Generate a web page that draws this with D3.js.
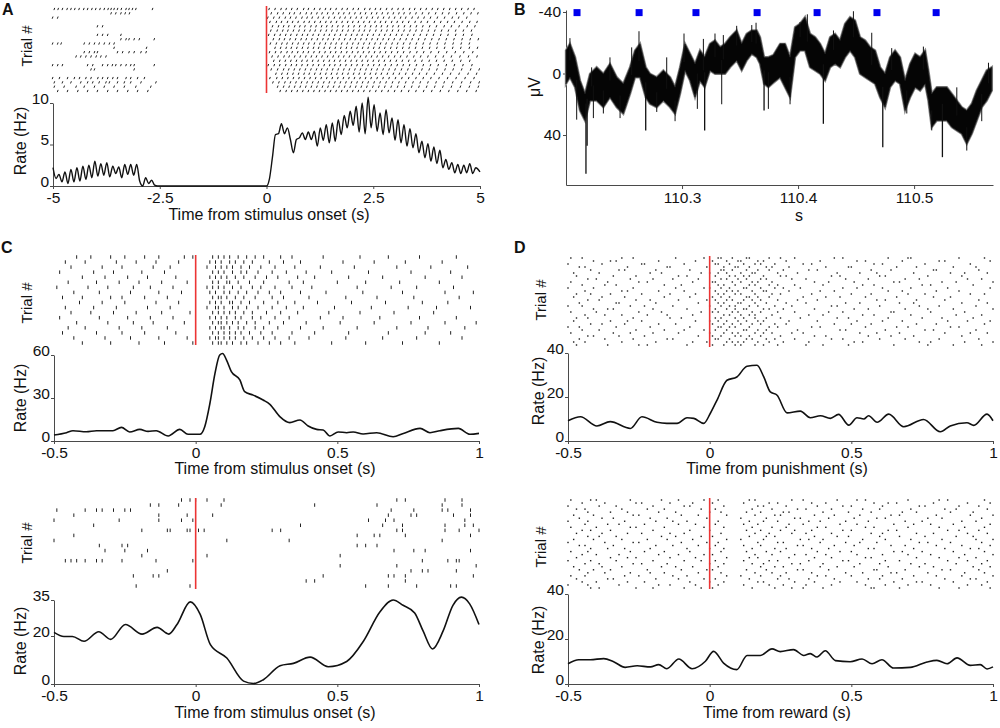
<!DOCTYPE html>
<html><head><meta charset="utf-8">
<script src="https://cdn.jsdelivr.net/npm/d3@7"></script>
<style>
html,body{margin:0;padding:0;background:#fff}
svg{display:block}
</style></head><body>
<svg id="fig" width="1000" height="728"></svg>
<script>
// ---------------- DATA ----------------
// Panel A: firing rate (Hz) vs time from stimulus onset (s)
const rateA_T = [-5.00,-4.93,-4.86,-4.79,-4.72,-4.65,-4.58,-4.51,-4.44,-4.37,-4.30,-4.23,-4.16,-4.09,-4.02,-3.95,-3.88,-3.81,-3.74,-3.67,-3.60,-3.53,-3.46,-3.39,-3.32,-3.25,-3.18,-3.11,-3.04,-2.97,-2.90,-2.83,-2.76,-2.69,-2.62,-2.55,
 0.00,0.07,0.14,0.21,0.28,0.35,0.42,0.49,0.56,0.63,0.70,0.77,0.84,0.91,0.98,1.05,1.12,1.19,1.26,1.33,1.40,1.47,1.54,1.61,1.68,1.75,1.82,1.89,1.96,2.03,2.10,2.17,2.24,2.31,2.38,2.45,2.52,2.59,2.66,2.73,2.80,2.87,2.94,3.01,3.08,3.15,3.22,3.29,3.36,3.43,3.50,3.57,3.64,3.71,3.78,3.85,3.92,3.99,4.06,4.13,4.20,4.27,4.34,4.41,4.48,4.55,4.62,4.69,4.76,4.83,4.90,5.00];
const rateA_V = [2.2,0.9,1.4,0.5,1.7,0.3,2.0,0.5,2.2,0.6,2.4,0.8,2.5,1.0,3.0,1.2,2.7,1.3,2.8,1.1,2.4,1.5,2.3,1.0,2.6,1.4,2.6,1.3,2.6,0.6,0.0,1.0,0.3,0.7,0.1,0.0,
 0.0,0.9,3.5,6.2,6.3,7.5,6.3,7.0,5.6,4.0,5.6,5.8,6.4,5.6,6.5,5.6,6.6,4.8,7.0,5.5,7.4,5.2,7.6,5.4,8.0,6.2,8.5,7.0,9.0,7.3,9.6,6.5,10.0,6.3,10.7,7.0,9.8,6.6,8.8,6.2,9.2,6.4,8.2,5.5,8.0,5.2,7.4,4.8,6.9,4.6,6.3,4.0,5.4,3.4,5.1,3.0,4.7,2.7,4.3,2.2,3.2,2.0,2.8,1.6,2.6,1.5,2.5,1.6,2.7,1.5,2.2,1.7];
// Panel A raster: spike times per trial, in 1/100 s
const rasterA = [
"-496 -487 -477 -466 -457 -448 -438 -427 -418 -408 -399 -389 -379 -370 -363 -356 -348 -339 -328 -321 -313 -305 -266 7 21 35 47 60 73 88 99 113 126 139 151 164 178 190 204 216 231 243 256 268 282 295 309 321 336 348 362 375 389 402 416 430 444 458 473 487",
"-363 -352 -340 -330 -320 12 27 40 55 66 80 94 106 119 131 144 157 170 182 195 208 221 233 247 259 272 285 298 311 323 337 351 366 381 397 413 428 446 463 480 496",
"-500 -488 4 18 31 45 57 70 84 96 108 122 134 147 160 173 185 198 211 223 236 249 262 275 288 301 315 327 342 356 370 385 401 418 436 451 470",
"9 24 36 50 62 75 89 101 114 127 140 152 165 178 191 203 216 229 242 255 268 280 294 307 320 334 349 363 378 394 409 425 441 459 477 494",
"-395 -383 15 29 41 53 67 79 91 105 117 130 142 155 168 180 193 206 219 232 245 258 270 284 297 310 324 338 352 367 383 399 417 434 452 471 489",
"11 26 39 51 64 77 90 103 115 128 141 154 166 179 192 205 218 230 243 257 270 283 296 310 323 337 351 365 380 395 411 427 444 462 481",
"-395 -383 -371 -340 6 20 33 46 58 72 85 97 110 123 136 148 161 174 187 200 213 225 238 251 265 278 291 305 318 332 346 361 376 392 409 426 444 462 482",
"-340 -328 -321 -309 -297 -262 17 31 43 56 69 82 94 107 120 133 145 158 171 184 197 209 222 235 248 261 274 287 300 314 328 342 357 372 388 405 422 440 459 478 497",
"-500 -488 -480 -426 -414 -402 -391 -379 -367 -356 10 24 37 49 62 75 88 100 113 126 139 152 164 177 190 203 216 229 242 255 268 281 295 308 322 337 352 368 384 401 419 438 457 476",
"-356 -280 21 34 47 59 72 85 98 111 123 136 149 162 175 188 200 213 226 239 252 265 278 292 306 320 335 350 366 383 400 418 437 456 476 495",
"-426 -414 -402 -395 -348 -336 -321 -309 -293 -281 8 22 35 49 61 74 87 99 112 125 138 151 163 176 189 202 215 228 241 254 267 280 294 308 322 337 353 369 386 404 423 443 463 484",
"-445 -434 -422 -410 -398 -387 -375 14 28 42 54 67 80 93 106 118 131 144 157 170 182 195 208 221 234 247 260 273 287 301 315 330 346 362 379 397 415 434 454 474 494",
"18 32 45 58 71 84 96 109 122 135 148 160 173 186 199 212 225 238 251 264 277 291 305 319 334 349 365 382 399 417 436 456 477",
"-500 -488 -477 -418 -406 -383 -371 -360 -352 -340 -328 -317 -309 -262 5 19 32 46 59 71 84 97 110 123 136 149 161 174 187 200 213 226 239 252 265 279 293 307 321 336 352 368 385 403 422 441 461 482",
"-410 -402 -309 12 27 41 53 66 79 92 105 118 130 143 156 169 182 195 208 221 234 247 260 274 288 302 317 332 348 365 382 400 419 438 458 479 499",
"23 37 50 63 76 89 101 114 127 140 153 166 179 192 205 218 231 244 257 270 284 298 312 327 343 359 376 394 413 432 452 473 493",
"-500 -484 -465 -449 -437 -422 -410 -394 -383 -371 -359 -348 -328 -317 -301 -285 9 25 38 51 64 77 90 103 116 129 142 155 168 181 194 207 220 233 246 260 274 288 303 318 334 351 368 386 405 425 445 466 487",
"-496 -477 -457 -434 -418 -406 -391 -375 -367 -348 -332 -317 -293 -258 16 30 44 57 70 83 96 109 122 135 148 161 174 187 200 213 226 239 253 267 281 296 311 327 344 361 379 398 417 437 458 479 499",
"-496 -473 -445 -426 -402 -379 -356 -332 -305 -270 27 41 54 67 80 93 106 119 132 145 158 171 184 197 210 223 236 250 264 278 293 308 324 341 358 376 395 414 434 455 476 497",
"-488 -465 -441 -418 -395 -371 -348 -324 -301 -277 33 47 60 73 86 99 112 125 138 151 164 177 190 203 216 229 243 257 271 286 301 317 334 351 369 388 408 428 449 470 492"];

// Panel B: LFP (µV, positive down) vs time (s): band top / bottom, spikes, stimulus marks
const lfpT = [110.2000,110.2034,110.2078,110.2121,110.2164,110.2207,110.2264,110.2322,110.2379,110.2437,110.2494,110.2552,110.2595,110.2638,110.2687,110.2724,110.2782,110.2839,110.2897,110.2940,110.2983,110.3026,110.3069,110.3112,110.3155,110.3195,110.3241,110.3284,110.3328,110.3371,110.3414,110.3471,110.3514,110.3557,110.3601,110.3644,110.3672,110.3707,110.3744,110.3787,110.3845,110.3888,110.3931,110.3974,110.4017,110.4060,110.4103,110.4147,110.4190,110.4233,110.4276,110.4319,110.4362,110.4405,110.4448,110.4491,110.4534,110.4578,110.4621,110.4664,110.4707,110.4750,110.4793,110.4836,110.4879,110.4922,110.4966,110.5009,110.5052,110.5095,110.5123,110.5152,110.5195,110.5244,110.5282,110.5325,110.5368,110.5411,110.5454,110.5497,110.5540,110.5583,110.5626,110.5670];
const lfpTop = [-15.0,-19.3,-10.6,4.6,13.2,0.2,-4.1,0.2,-6.3,2.4,6.7,-4.1,-15.0,-19.3,-4.1,0.2,2.4,-2.0,2.4,8.9,-4.1,-19.3,-12.8,-6.3,-15.0,-10.6,-19.3,-21.5,-17.1,-19.3,-23.6,-28.0,-19.3,-25.8,-28.0,-28.0,-23.6,-10.6,-10.6,-12.0,-19.3,-19.3,-10.6,-30.1,-32.3,-36.6,-25.8,-23.6,-19.3,-12.8,-23.6,-25.8,-21.5,-32.3,-36.6,-34.5,-23.6,-21.5,-17.1,-15.0,-4.1,0.2,-10.6,-15.0,-10.6,4.6,-6.3,-12.8,-10.6,-15.0,-2.0,13.2,8.9,8.9,8.9,13.2,17.6,21.9,24.1,19.7,11.1,4.6,-2.0,-4.1];
const lfpBot = [6.7,2.4,8.9,24.1,30.6,17.6,17.6,21.9,15.4,21.9,26.2,13.2,2.4,2.4,15.4,19.7,21.9,17.6,21.9,26.2,13.2,-2.0,4.6,15.4,4.6,8.9,-2.0,0.2,0.2,0.2,-4.1,-8.5,-2.0,-8.5,-12.8,-10.6,-6.3,6.7,8.9,6.0,2.4,8.9,15.4,-10.6,-15.0,-15.0,-4.1,-2.0,0.2,4.6,-4.1,-6.3,-4.1,-10.6,-15.0,-10.6,0.2,2.4,4.6,6.7,15.4,21.9,8.9,4.6,6.7,24.1,15.4,8.9,11.1,6.7,17.6,34.9,30.6,30.6,30.6,34.9,37.1,39.2,45.7,39.2,30.6,21.9,17.6,11.1];
const lfpSpikeT = [110.2172,110.2182,110.2687,110.3195,110.3707,110.4218,110.4730,110.5244,
 110.2034,110.2221,110.2379,110.2566,110.2629,110.2868,110.3017,110.3184,110.3284,110.3356,110.3471,110.3601,110.3638,110.4017,110.4080,110.4305,110.4477,110.4635,110.4807,110.5080,110.5368,110.5641,
 110.2092,110.2236,110.2322,110.2466,110.2782,110.2940,110.3132,110.3342,110.3744,110.3931,110.4937,110.5152,110.5454,110.5583];
const lfpSpikeV = [65.2,47.0,37.1,37.1,24.1,32.7,47.9,54.4,
 -23.0,-4.0,-10.5,-17.0,-27.5,-10.5,-26.0,-22.5,-26.0,-25.0,-31.0,-31.5,-33.0,-33.5,-38.5,-28.0,-40.5,-26.5,-16.5,-17.5,9.0,-7.0,
 30.0,29.0,26.0,29.0,25.0,31.0,23.0,20.0,23.0,20.0,26.0,37.0,50.1,31.0];
const stimT = [110.2095,110.2630,110.3120,110.3647,110.4164,110.4680,110.5190];

// Panel C (top): stimulus onset
const rateC1_T = [-0.5,-0.456,-0.433,-0.386,-0.350,-0.292,-0.262,-0.233,-0.197,-0.168,-0.139,-0.097,-0.056,-0.027,0.015,0.032,0.050,0.068,0.085,0.095,0.109,0.126,0.156,0.173,0.203,0.238,0.262,0.297,0.332,0.368,0.397,0.427,0.450,0.474,0.503,0.533,0.556,0.591,0.639,0.697,0.733,0.792,0.827,0.862,0.927,0.968,1.0];
const rateC1_V = [4.2,5.8,7.2,6.5,7.2,7.2,9.5,6.3,8.1,6.7,7.2,3.5,8.1,4.7,4.7,10,26,47,60,61,56.5,48.4,42.6,34.4,32,28.6,25.6,17,12.8,14.7,10.5,8.1,7.7,3.5,6.3,5.8,6.3,4.9,5.8,3,5.3,8.8,5.8,7.2,8.8,4.7,5.3];
const rasterC1 = [
"-42 -37 -30 -25 -18 -13 -4 -1 6 8 10 12 15 18 21 24 30 34 45 58 68 79 92",
"-46 -39 -28 -21 -14 -6 5 7 9 12 14 17 20 26 31 37 52 63 74 87",
"-44 -33 -26 -15 -9 4 7 9 11 13 16 19 23 28 35 44 56 71 83 96",
"-48 -36 -29 -19 -11 6 8 10 13 16 18 22 27 32 39 48 61 76 90",
"-40 -32 -24 -17 -7 5 7 9 11 14 17 21 25 29 36 42 54 66 81 94",
"-45 -35 -27 -20 -12 -3 6 8 11 12 15 19 24 33 38 50 60 72 86",
"-49 -38 -31 -22 -16 -8 4 6 8 10 13 16 20 23 28 34 41 57 69 78 91",
"-43 -34 -23 -13 -5 5 7 10 12 15 18 22 26 30 37 46 59 73 88 98",
"-47 -40 -30 -26 -18 -10 6 8 9 11 14 17 21 27 31 40 53 64 77 93",
"-41 -33 -25 -14 -6 5 7 9 12 13 16 19 24 29 35 43 55 67 80 89",
"-46 -36 -28 -17 -9 4 7 8 10 13 15 18 22 27 32 38 49 62 75 85 97",
"-44 -37 -29 -21 -12 -2 6 8 10 12 14 17 20 25 30 36 47 58 70 84",
"-48 -34 -24 -16 -8 5 7 9 11 14 16 20 23 28 33 44 52 65 79 92",
"-42 -31 -22 -15 -4 6 8 9 11 13 15 18 21 26 31 39 51 63 76 88 99",
"-45 -39 -27 -19 -10 5 7 9 10 12 15 17 21 24 29 37 45 57 71 82 95",
"-47 -35 -26 -18 -7 6 8 10 12 14 16 19 23 27 34 42 54 68 81 90",
"-43 -32 -23 -13 -3 5 7 8 10 12 14 17 20 24 28 33 40 53 66 78 94",
"-40 -30 -20 -11 -1 6 8 9 11 13 16 18 22 26 30 35 48 60 73 86"];

// Panel C (bottom): stimulus onset, inhibited unit
const rateC2_T = [-0.5,-0.465,-0.435,-0.394,-0.342,-0.300,-0.248,-0.189,-0.136,-0.095,-0.066,-0.019,0.016,0.052,0.110,0.169,0.204,0.239,0.298,0.345,0.404,0.468,0.533,0.592,0.650,0.697,0.732,0.773,0.803,0.836,0.873,0.908,0.938,0.967,1.0];
const rateC2_V = [21.5,19.8,19.8,17.8,21.8,18.6,24.8,20.8,23.6,20.8,24.8,34.2,29.0,16.4,10.8,1.2,0.2,1.8,7.6,8.6,11.2,7.2,9.4,17.8,30.0,35.0,32.8,29.6,22.0,14.6,22.0,32.8,36.2,33.4,24.8];
const rasterC2 = [
"-5 -2 0 4 10 71 74 88 94",
"-16 -13 -6 9 42 64 87 94",
"-49 -39 -35 -33 -29 -25 -23 69 77 87 89 97",
"-43 -13 -3 6 68 76 78 91 97",
"-50 -27 -13 -5 -1 61 67 70 95",
"-36 37 66 73 88 95 98",
"-19 -10 -9 -3 -2 1 3 27 30 71 73 88 93 100",
"-43 57 63 65 74 97",
"-50 11 33 87",
"-34 -26 -24 57 60 64",
"-32 -25 -17 70 77 81 97",
"-19 4 51",
"-46 -44 -42 -39 -35 -33 -26 -14 -1 80 89 92 93",
"51 71 99",
"-10 76 80 82 92",
"-22 -15 -13 45 68 70 74 98",
"39 42 74",
"-21 -2 60 68 78 90 92"];

// Panel D (top): punishment
const rateD1_T = [-0.5,-0.456,-0.398,-0.351,-0.280,-0.239,-0.186,-0.151,-0.115,-0.080,-0.056,-0.021,0.002,0.026,0.061,0.096,0.132,0.167,0.191,0.214,0.238,0.273,0.320,0.355,0.391,0.426,0.455,0.491,0.520,0.544,0.561,0.591,0.632,0.685,0.755,0.814,0.849,0.908,0.932,0.979,1.0];
const rateD1_V = [9.2,11,6.8,8.8,5.7,11,8.5,8,8,10.6,10.3,8,12.5,18.6,27.6,29.1,34,34.4,29.1,22.3,20.8,12.8,13.6,10.6,11.5,10.3,12.1,7.2,10.6,10,11.5,8.5,12.2,6.5,9.8,4.2,6.8,8.3,7.1,12.2,9.2];
const rasterD1 = [
"-49 -45 -31 -27 -12 -2 3 4 8 13 14 21 25 30 44 47 63 70 71 88 97",
"-41 -35 -33 -18 -5 1 6 10 11 17 19 27 39 52 55 68 81 83 99",
"-50 -38 -24 -23 -9 2 3 7 12 16 18 23 33 36 58 61 76 92",
"-46 -44 -29 -15 -14 -1 5 9 10 14 20 22 28 41 49 50 66 73 86 94",
"-42 -32 -30 -19 -7 4 5 8 13 17 21 26 35 38 57 64 79 80 95",
"-48 -39 -21 -17 -3 0 3 6 11 15 16 24 31 45 53 59 72 85 90 98",
"-47 -34 -26 -11 -8 2 7 9 12 14 19 25 27 43 46 60 62 77 89",
"-43 -40 -28 -20 -13 -4 4 6 10 13 18 20 29 34 48 56 69 74 91 96",
"-49 -36 -25 -22 -6 1 2 8 11 15 17 22 37 42 51 65 67 82 87 100",
"-45 -37 -33 -16 -10 3 5 9 14 16 21 24 30 40 54 58 75 78 93",
"-50 -41 -27 -12 -2 0 4 7 12 13 18 23 26 32 47 52 61 71 84 99",
"-44 -31 -29 -18 -9 2 6 8 10 15 19 20 28 39 44 63 68 80 88",
"-47 -42 -35 -24 -14 -5 3 5 9 11 16 22 25 36 50 57 70 76 92 97",
"-48 -38 -30 -16 -7 1 4 7 13 14 17 21 33 41 46 55 66 79 85",
"-43 -39 -26 -21 -11 -1 2 6 8 12 15 18 24 31 38 59 62 73 83 95",
"-46 -33 -32 -19 -4 3 5 10 11 16 20 27 34 48 53 67 72 89 98",
"-50 -45 -28 -23 -13 0 4 7 9 14 17 23 29 43 45 60 74 81 94",
"-41 -36 -34 -20 -8 2 6 9 12 13 19 21 26 37 51 56 69 77 86 100",
"-49 -40 -25 -17 -3 1 3 8 10 15 18 24 30 42 47 64 65 78 90",
"-44 -37 -31 -22 -15 -6 5 7 11 14 16 22 35 40 54 58 71 87 96",
"-47 -43 -27 -14 -10 2 4 9 12 16 20 25 32 45 49 63 75 82 93",
"-48 -35 -29 -24 -5 0 3 6 10 13 17 19 28 38 52 61 68 84 91 99",
"-42 -38 -30 -18 -12 1 5 8 11 15 18 23 27 44 50 57 73 80 97",
"-50 -46 -33 -21 -7 3 4 7 9 14 21 24 36 39 55 66 70 85 88",
"-45 -39 -26 -16 -9 -2 2 6 12 13 17 20 31 46 48 62 76 79 94",
"-49 -34 -28 -20 -11 0 5 8 10 16 19 22 29 33 53 59 67 83 92 98",
"-43 -41 -32 -23 -4 1 4 9 11 14 18 25 37 41 56 64 72 89",
"-46 -37 -27 -15 -13 2 3 7 13 15 20 23 30 43 47 60 69 81 95",
"-48 -44 -31 -19 -6 -1 6 8 10 12 17 21 26 35 51 54 74 78 90 100",
"-47 -36 -25 -22 -8 1 5 9 11 16 19 24 34 40 49 65 77 86 96"];

// Panel D (bottom): reward
const rateD2_T = [-0.5,-0.462,-0.421,-0.374,-0.339,-0.298,-0.256,-0.209,-0.180,-0.151,-0.109,-0.062,-0.015,0.014,0.049,0.096,0.132,0.179,0.220,0.249,0.296,0.332,0.355,0.379,0.408,0.444,0.496,0.538,0.573,0.608,0.649,0.708,0.767,0.802,0.838,0.873,0.920,0.955,0.979,1.0];
const rateD2_V = [9,10.8,10.8,11.3,9.9,7.4,8.1,7.6,8.6,6.8,11.1,6.8,10.1,14.5,9.3,6.4,12.7,12.7,15.6,14.4,15.3,12.7,13.5,12,14.8,10.4,9.9,11.1,9,10.8,7.1,7.4,9.8,10.5,9,11.6,8.3,8.6,6.7,7.6];
const rasterD2 = [
"-49 -42 -40 -28 -17 -11 -2 3 14 16 29 33 45 52 55 70 81 84 97",
"-45 -37 -26 -24 -14 -6 1 12 21 24 36 41 58 63 66 79 91 99",
"-50 -39 -33 -20 -9 -7 5 17 19 27 38 47 50 61 74 76 88 95",
"-47 -44 -31 -22 -16 -3 2 15 22 31 34 43 54 60 71 83 87 98",
"-43 -35 -29 -18 -12 0 4 13 18 26 28 40 49 57 68 73 85 93",
"-48 -41 -27 -25 -10 -4 6 16 23 25 37 44 53 64 67 80 92 100",
"-46 -38 -34 -21 -15 -1 11 20 30 32 42 51 59 62 77 82 96",
"-50 -43 -30 -19 -13 -8 3 14 19 24 35 39 48 56 69 75 89 94",
"-44 -36 -32 -23 -11 -5 2 12 17 28 33 46 52 65 72 78 86 99",
"-49 -40 -28 -26 -16 -2 5 15 22 27 38 41 55 58 70 81 90 97",
"-45 -42 -35 -20 -7 0 13 18 25 30 36 47 50 63 66 84 88 95",
"-47 -38 -29 -24 -14 -9 4 16 21 29 34 43 57 61 73 79 91 98",
"-43 -39 -33 -17 -12 -3 1 14 20 23 37 45 49 60 67 76 87 93",
"-48 -41 -31 -22 -15 -6 6 11 19 32 35 40 54 62 71 82 94 100",
"-50 -37 -27 -25 -10 -1 3 17 24 26 39 48 53 59 74 77 85 96",
"-46 -44 -34 -19 -13 -4 2 12 18 31 33 44 51 64 69 80 89 99",
"-42 -36 -30 -21 -8 0 5 15 23 27 36 42 56 58 72 83 92 95",
"-49 -43 -28 -23 -16 -7 4 13 20 25 38 46 50 65 68 75 86 97",
"-45 -40 -32 -18 -11 -2 1 16 22 30 34 41 52 61 70 78 90 100",
"-47 -35 -29 -26 -14 -5 6 14 17 28 37 43 55 57 73 81 88 94",
"-50 -42 -33 -20 -9 -3 2 12 21 24 35 47 49 62 67 84 91 98",
"-44 -39 -27 -24 -15 0 5 15 19 29 32 40 53 60 71 76 87 96",
"-48 -38 -31 -17 -12 -6 3 18 23 26 39 45 51 63 74 79 93 99",
"-46 -41 -35 -22 -10 -1 1 13 20 31 33 42 58 59 69 82 85 95",
"-43 -37 -28 -21 -16 -4 4 16 22 27 36 48 54 64 66 77 90 97",
"-49 -44 -30 -25 -13 -8 6 11 18 25 38 41 50 61 72 80 89 100",
"-47 -36 -34 -19 -11 -2 2 14 24 28 35 44 56 60 68 83 92 94",
"-45 -40 -29 -23 -7 0 5 17 19 30 37 46 52 65 73 75 86 98",
"-50 -43 -32 -18 -14 -5 3 12 21 26 34 43 55 62 70 78 91 96",
"-42 -39 -26 -20 -9 -3 1 15 23 29 33 40 57 58 67 81 88 99"];

const ticksA = [-5,-2.5,0,2.5,5];
const ticksCD = [-0.5,0,0.5,1];
const ticksB = [110.3,110.4,110.5];
const ticksBy = [-40,0,40];

// ---------------- DRAWING ----------------
const FONT = "'Liberation Sans', Arial, Helvetica, sans-serif";
const svg = d3.select("#fig").attr("font-family", FONT);
const AX = "#4a4a4a";
const RED = "#ec3434";
const TICKFS = 15.5, TITLEFS = 16;

function parseRows(rows){ return rows.map(s => s.trim().length ? s.trim().split(/\s+/).map(v => +v/100) : []); }

function styleAxis(g){
  g.attr("font-family", FONT).attr("font-size", TICKFS);
  g.select(".domain").attr("stroke", AX).attr("stroke-width", 1);
  g.selectAll(".tick line").attr("stroke", AX);
  g.selectAll(".tick text").attr("fill", "#111");
}
function label(x, y, s, opt = {}){
  const t = svg.append("text").attr("font-size", opt.size || TITLEFS).attr("fill", "#111")
    .attr("text-anchor", opt.anchor || "middle").attr("font-weight", opt.bold ? "bold" : null);
  if (opt.rot) t.attr("transform", `translate(${x},${y}) rotate(-90)`).attr("dy", "0.35em");
  else t.attr("x", x).attr("y", y);
  t.text(s);
}

function raster(rows, x, y0, y1, kind, h){
  const data = parseRows(rows);
  const y = d3.scalePoint().domain(d3.range(data.length)).range([y0, y1]);
  const pts = data.flatMap((r, i) => r.map(t => ({t, i})));
  const g = svg.append("g");
  if (kind === "dot") {
    g.selectAll("rect").data(pts).enter().append("rect")
      .attr("x", d => x(d.t) - 0.7).attr("y", d => y(d.i) - 0.7)
      .attr("width", 1.4).attr("height", 1.4).attr("fill", "#1a1a1a");
  } else {
    g.selectAll("line").data(pts).enter().append("line")
      .attr("x1", d => x(d.t)).attr("x2", d => x(d.t) - (kind === "slant" ? 0.8 : 0))
      .attr("y1", d => y(d.i) - h/2).attr("y2", d => y(d.i) + h/2)
      .attr("stroke", "#222").attr("stroke-width", 1);
  }
}
function redLine(x, y0, y1){
  svg.append("line").attr("x1", x).attr("x2", x).attr("y1", y0).attr("y2", y1)
    .attr("stroke", RED).attr("stroke-width", 1.6);
}
function yAxisStyle(g){ styleAxis(g); g.selectAll(".tick text").attr("dy", "0em"); }
function ratePanel(x, y, xt, yt, T, V, lw){
  const yb = y.range()[0];
  svg.append("g").attr("transform", `translate(0,${yb})`)
    .call(d3.axisBottom(x).tickValues(xt).tickFormat(d => String(d)).tickSizeInner(3).tickSizeOuter(0).tickPadding(3))
    .call(styleAxis);
  svg.append("g").attr("transform", `translate(${x.range()[0]},0)`)
    .call(d3.axisLeft(y).tickValues(yt).tickFormat(d => String(d)).tickSizeInner(3).tickSizeOuter(0).tickPadding(1))
    .call(yAxisStyle);
  const line = d3.line().x((d, i) => x(T[i])).y(d => y(d)).curve(d3.curveMonotoneX);
  svg.append("path").attr("d", line(V)).attr("fill", "none").attr("stroke", "#111").attr("stroke-width", lw || 1.6);
}

// ----- Panel A -----
const xA = d3.scaleLinear().domain([-5, 5]).range([53, 480]);
const yA = d3.scaleLinear().domain([0, 10]).range([186, 103]);
raster(rasterA, xA, 9, 91, "slant", 2.2);
redLine(xA(0), 6, 93);
ratePanel(xA, yA, ticksA, [0, 5, 10], rateA_T, rateA_V, 1.4);
label(269, 220, "Time from stimulus onset (s)");
label(20, 141, "Rate (Hz)", {rot: true});
label(27, 46, "Trial #", {rot: true, size: 15});
label(2, 15, "A", {anchor: "start", bold: true, size: 16});

// ----- Panel B -----
const xB = d3.scaleLinear().domain([110.2, 110.568]).range([566, 993]);
const yB = d3.scaleLinear().domain([-41.3, 72.5]).range([10, 185]);
svg.append("g").attr("transform", "translate(0,185)")
  .call(d3.axisBottom(xB).tickValues(ticksB).tickFormat(d3.format(".1f")).tickSizeInner(4).tickSizeOuter(0).tickPadding(3))
  .call(styleAxis);
svg.append("g").attr("transform", "translate(566,0)")
  .call(d3.axisLeft(yB).tickValues(ticksBy).tickFormat(d => String(d)).tickSizeInner(3).tickSizeOuter(0).tickPadding(2))
  .call(styleAxis);
const band = d3.area().x((d, i) => xB(lfpT[i])).y0((d, i) => yB(lfpBot[i])).y1(d => yB(d));
svg.append("path").attr("d", band(lfpTop)).attr("fill", "none").attr("stroke", "#8a8a8a").attr("stroke-width", 2.4).attr("stroke-linejoin", "miter");
svg.append("path").attr("d", band(lfpTop)).attr("fill", "#050505").attr("stroke", "#222").attr("stroke-width", 0.8).attr("stroke-linejoin", "miter");
const mid = d3.scaleLinear().domain(lfpT).range(lfpT.map((t, i) => (lfpTop[i] + lfpBot[i]) / 2));
svg.append("g").selectAll("line").data(lfpSpikeT).enter().append("line")
  .attr("x1", d => xB(d)).attr("x2", d => xB(d))
  .attr("y1", d => yB(mid(d))).attr("y2", (d, i) => yB(lfpSpikeV[i]))
  .attr("stroke", "#111").attr("stroke-width", (d, i) => i < 8 ? 1.3 : 1);
svg.append("g").selectAll("rect").data(stimT).enter().append("rect")
  .attr("x", d => xB(d) - 3.5).attr("y", yB(-39.6) - 3.5).attr("width", 7).attr("height", 7).attr("fill", "#0000ee");
label(799, 221, "s");
label(534, 87, "μV", {rot: true});
label(514, 15, "B", {anchor: "start", bold: true, size: 16});

// ----- Panel C -----
const xC = d3.scaleLinear().domain([-0.5, 1]).range([54, 479]);
const yC1 = d3.scaleLinear().domain([0, 60]).range([441, 355]);
raster(rasterC1, xC, 257, 343, "tick", 3.5);
redLine(xC(0), 255, 345);
ratePanel(xC, yC1, ticksCD, [0, 30, 60], rateC1_T, rateC1_V);
label(275, 474, "Time from stimulus onset (s)");
label(20, 398, "Rate (Hz)", {rot: true});
label(27, 303, "Trial #", {rot: true, size: 15});
label(1, 253, "C", {anchor: "start", bold: true, size: 16});

const yC2 = d3.scaleLinear().domain([0, 35]).range([684, 600]);
raster(rasterC2, xC, 500, 586, "tick", 3.5);
redLine(xC(0), 498, 589);
ratePanel(xC, yC2, ticksCD, [0, 20, 35], rateC2_T, rateC2_V);
label(275, 718, "Time from stimulus onset (s)");
label(20, 641, "Rate (Hz)", {rot: true});
label(27, 543, "Trial #", {rot: true, size: 15});

// ----- Panel D -----
const xD = d3.scaleLinear().domain([-0.5, 1]).range([568, 993]);
const yD1 = d3.scaleLinear().domain([0, 40]).range([441, 353]);
raster(rasterD1, xD, 258, 345, "dot");
redLine(xD(0), 256, 347);
ratePanel(xD, yD1, ticksCD, [0, 20, 40], rateD1_T, rateD1_V);
label(777, 474, "Time from punishment (s)");
label(538, 391, "Rate (Hz)", {rot: true});
label(541, 300, "Trial #", {rot: true, size: 15});
label(514, 253, "D", {anchor: "start", bold: true, size: 16});

const yD2 = d3.scaleLinear().domain([0, 40]).range([684, 594]);
raster(rasterD2, xD, 500, 588, "dot");
redLine(xD(0), 498, 589);
ratePanel(xD, yD2, ticksCD, [0, 20, 40], rateD2_T, rateD2_V);
label(777, 718, "Time from reward (s)");
label(538, 640, "Rate (Hz)", {rot: true});
label(541, 547, "Trial #", {rot: true, size: 15});
</script>
</body></html>
